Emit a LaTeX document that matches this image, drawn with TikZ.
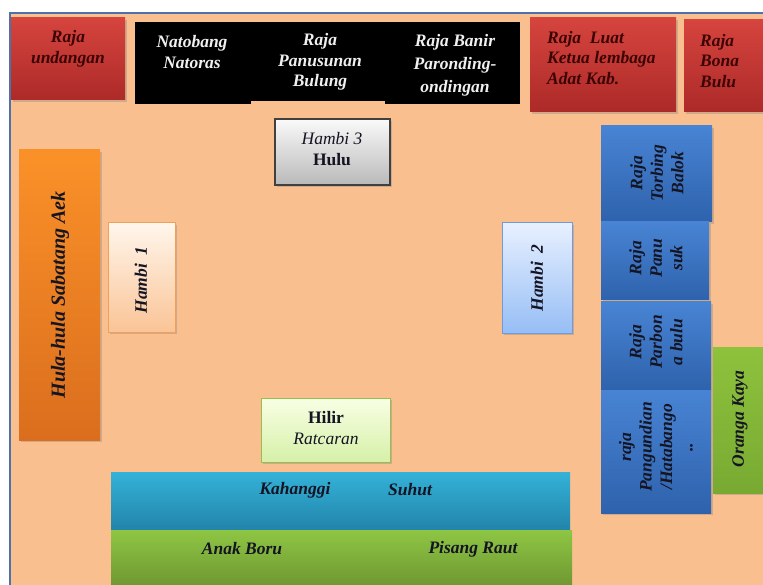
\documentclass[tikz,border=0pt]{standalone}
\usepackage{fontspec}
\setmainfont{Liberation Serif}
\usetikzlibrary{shadows}
\definecolor{peach}{RGB}{250,191,143}
\definecolor{frameblue}{RGB}{79,113,170}
\definecolor{redtop}{RGB}{214,68,62}
\definecolor{redbot}{RGB}{172,42,40}
\definecolor{redtext}{RGB}{60,5,5}
\definecolor{graytop}{RGB}{250,250,250}
\definecolor{graybot}{RGB}{185,185,185}
\definecolor{oratop}{RGB}{250,145,40}
\definecolor{orabot}{RGB}{218,110,30}
\definecolor{h1top}{RGB}{255,246,236}
\definecolor{h1bot}{RGB}{250,196,150}
\definecolor{h1line}{RGB}{240,160,90}
\definecolor{h2top}{RGB}{232,240,255}
\definecolor{h2bot}{RGB}{150,190,245}
\definecolor{h2line}{RGB}{110,155,220}
\definecolor{hitop}{RGB}{248,255,228}
\definecolor{hibot}{RGB}{214,240,168}
\definecolor{hiline}{RGB}{150,190,80}
\definecolor{cyantop}{RGB}{52,178,216}
\definecolor{cyanbot}{RGB}{34,132,170}
\definecolor{grtop}{RGB}{142,198,68}
\definecolor{grbot}{RGB}{112,152,50}
\definecolor{bltop}{RGB}{72,132,212}
\definecolor{blbot}{RGB}{46,98,172}
\definecolor{ogtop}{RGB}{142,194,60}
\definecolor{ogbot}{RGB}{120,170,50}
\definecolor{darktext}{RGB}{20,20,35}
\newcommand\fsz{\fontsize{17.5}{20.5}\selectfont}
\newcommand\fszb{\fontsize{20}{24}\selectfont}
\tikzset{
  box/.style={rectangle, inner sep=0pt, outer sep=0pt, anchor=north west},
  shad/.style={drop shadow={shadow xshift=1.5pt, shadow yshift=-2pt, opacity=0.35}},
  redbox/.style={box, shad, top color=redtop, bottom color=redbot},
  blackbox/.style={box, fill=black},
  bluebox/.style={box, shad, top color=bltop, bottom color=blbot},
  lbl/.style={font=\fsz\bfseries\itshape, align=center, inner sep=0pt, text=darktext},
  redlbl/.style={lbl, text=redtext},
  whitelbl/.style={lbl, text=white!94!black},
}
\begin{document}
\begin{tikzpicture}[x=1pt,y=-1pt]
\useasboundingbox (0,0) rectangle (763,585);
\fill[white] (0,0) rectangle (763,585);
\fill[peach] (10,13) rectangle (763,585);
\draw[frameblue, line width=2.5pt] (10,585) -- (10,13) -- (763,13);

% top row
\node[redbox, minimum width=114pt, minimum height=82pt] (rundang) at (11,18) {};
\node[blackbox, minimum width=116pt, minimum height=82pt] (natob) at (135,22) {};
\node[blackbox, minimum width=136pt, minimum height=79pt] (panus) at (250,22) {};
\node[blackbox, minimum width=135pt, minimum height=82pt] (banir) at (385,22) {};
\node[redbox, minimum width=146pt, minimum height=94pt] (rluat) at (530,18) {};
\node[redbox, minimum width=80pt, minimum height=92pt] (bona) at (684,20) {};

\node[redlbl] (trundang) at (68,49) {Raja\\undangan};
\node[whitelbl] (tnatob) at (192,52) {Natobang\\Natoras};
\node[whitelbl] (tpanus) at (320,62) {Raja\\Panusunan\\Bulung};
\node[whitelbl, font=\fontsize{17.5}{23}\selectfont\bfseries\itshape] (tbanir) at (455,65) {Raja Banir\\Paronding-\\ondingan};
\node[redlbl, align=left, anchor=west] (trluat) at (547,58) {Raja\ \ Luat\\Ketua lembaga\\Adat Kab.};
\node[redlbl, align=left, anchor=west] (tbona) at (700,61) {Raja\\Bona\\Bulu};

% Hambi 3 Hulu
\node[box, shad, draw=black!75, line width=1.5pt, top color=graytop, bottom color=graybot, minimum width=115pt, minimum height=66pt] (hulu) at (275,119) {};
\node[lbl, font=\fsz] (thulu) at (332,149) {\textit{Hambi 3}\\\textbf{Hulu}};

% Hula-hula
\node[box, shad, top color=oratop, bottom color=orabot, minimum width=81pt, minimum height=290pt] (hula) at (19,150) {};
\node[lbl, font=\fszb\bfseries\itshape, rotate=90] (thula) at (60,295) {Hula-hula Sabatang Aek};

% Hambi 1
\node[box, shad, draw=h1line, line width=1pt, top color=h1top, bottom color=h1bot, minimum width=67pt, minimum height=109pt] (hambi1) at (108,223) {};
\node[lbl, rotate=90] (thambi1) at (141,280) {Hambi\ \ 1};

% Hambi 2
\node[box, shad, draw=h2line, line width=1pt, top color=h2top, bottom color=h2bot, minimum width=70pt, minimum height=110pt] (hambi2) at (502,223) {};
\node[lbl, rotate=90] (thambi2) at (537,278) {Hambi\ \ 2};

% Hilir
\node[box, shad, draw=hiline, line width=1pt, top color=hitop, bottom color=hibot, minimum width=129pt, minimum height=64pt] (hilir) at (261,398) {};
\node[lbl, font=\fsz] (thilir) at (326,428) {\textbf{Hilir}\\\textit{Ratcaran}};

% bottom bars
\node[box, top color=cyantop, bottom color=cyanbot, minimum width=459pt, minimum height=58pt] (kah) at (111,472) {};
\node[box, top color=grtop, bottom color=grbot, minimum width=461pt, minimum height=55pt] (anak) at (111,530) {};
\node[lbl] (tkah) at (295,490) {Kahanggi};
\node[lbl] (tsuhut) at (410,490) {Suhut};
\node[lbl] (tanak) at (242,549) {Anak Boru};
\node[lbl] (tpisang) at (473,549) {Pisang Raut};

% right column
\node[bluebox, minimum width=111pt, minimum height=96pt] (torb) at (601,126) {};
\node[bluebox, minimum width=108pt, minimum height=78pt] (panu) at (601,222) {};
\node[bluebox, minimum width=110pt, minimum height=88pt] (parb) at (601,302) {};
\node[bluebox, minimum width=110pt, minimum height=123pt] (pang) at (601,390) {};
\node[lbl, rotate=90] (ttorb) at (657,173) {Raja\\Torbing\\Balok};
\node[lbl, rotate=90] (tpanu) at (656,258) {Raja\\Panu\\suk};
\node[lbl, rotate=90] (tparb) at (656,342) {Raja\\Parbon\\a bulu};
\node[lbl, rotate=90] (tpang) at (656,447) {raja\\Pangundian\\/Hatabango\\..};

% Oranga Kaya
\node[box, shad, top color=ogtop, bottom color=ogbot, minimum width=51pt, minimum height=146pt] (oranga) at (713,347) {};
\node[lbl, rotate=90] (toranga) at (740,419) {Oranga Kaya};
\end{tikzpicture}
\end{document}
